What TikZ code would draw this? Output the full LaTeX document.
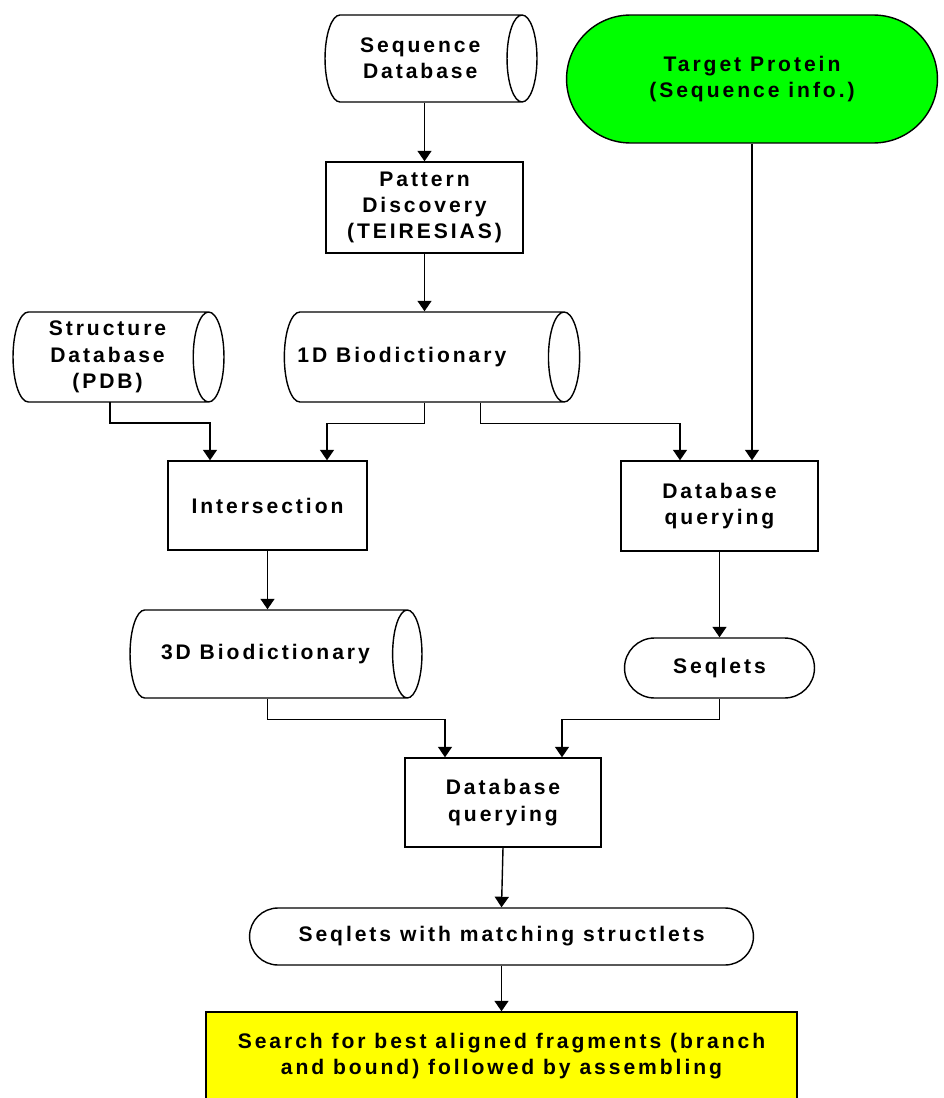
\documentclass[tikz,border=0pt]{standalone}
\usepackage{fontspec}
\newfontfamily\chartfont{Liberation Sans}[LetterSpace=14]
\usetikzlibrary{arrows.meta,positioning,calc,shapes.geometric,shapes.misc}

\definecolor{targetgreen}{RGB}{0,255,0}
\definecolor{searchyellow}{RGB}{255,255,0}

\tikzset{
  boxbase/.style={draw, line width=0.8pt, align=center, inner sep=2pt,
    font=\chartfont\bfseries\fontsize{12}{15}\selectfont},
  procbox/.style={boxbase, rectangle, fill=white},
  storebox/.style={boxbase, cylinder, shape aspect=0.7, anchor=shape center, fill=white},
  termbox/.style={boxbase, rounded rectangle, fill=white},
  arr/.style={line width=0.8pt, -{Triangle[width=8pt,length=6pt]}},
}

\begin{document}
\begin{tikzpicture}[x=0.02cm, y=-0.02cm]
\useasboundingbox (0,0) rectangle (943,1098);

% databases and inputs
\node[storebox, shape aspect=0.62, minimum height=4.24cm, minimum width=1.74cm] (seqdb) at (431,58.5) {Sequence\\Database};
\node[termbox, fill=targetgreen, minimum width=7.56cm, minimum height=2.56cm] (target) at (752,79) {Target Protein\\(Sequence info.)};
\node[procbox, minimum width=3.94cm, minimum height=1.82cm] (pattern) at (424.5,207.5) {Pattern\\Discovery\\(TEIRESIAS)};
\node[storebox, shape aspect=0.39, minimum height=4.22cm, minimum width=1.8cm] (structdb) at (118.5,357) {Structure\\Database\\(PDB)};
\node[storebox, shape aspect=1.17, minimum height=5.84cm, minimum width=1.8cm] (biodict1) at (432,357) {1D Biodictionary\hspace*{0.76cm}};

% middle stage
\node[procbox, minimum width=3.98cm, minimum height=1.78cm] (inter) at (267.5,505.5) {Intersection};
\node[procbox, minimum width=3.94cm, minimum height=1.8cm] (query1) at (719.5,506) {Database\\querying};
\node[storebox, shape aspect=1.1, minimum height=5.84cm, minimum width=1.76cm] (biodict3) at (276,654) {3D Biodictionary};
\node[termbox, minimum width=3.94cm, minimum height=1.2cm] (seqlets) at (719.5,668) {Seqlets};

% final stage
\node[procbox, minimum width=3.92cm, minimum height=1.78cm] (query2) at (503,802.5) {Database\\querying};
\node[termbox, minimum width=10.22cm, minimum height=1.14cm] (matched) at (501.5,936.5) {Seqlets with matching structlets};
\node[procbox, fill=searchyellow, minimum width=11.82cm, minimum height=1.76cm] (search) at (501.5,1056) {Search for best aligned fragments (branch\\and bound) followed by assembling};

% connectors
\draw[arr] (seqdb.south -| pattern.north) -- (pattern.north);
\draw[arr] (pattern.south) -- (pattern.south |- biodict1.north);
\draw[arr] (target.south) -- (target.south |- query1.north);
\draw[arr] ($(structdb.shape center)+(-8.5,45)$) -- ++(0,21) -| ($(inter.north)+(-57.5,0)$);
\draw[arr] (pattern.south |- biodict1.south) -- ++(0,21) -| ($(inter.north)+(59.5,0)$);
\draw[arr] ($(pattern.south |- biodict1.south)+(56,0)$) -- ++(0,21) -| ($(query1.north)+(-39.5,0)$);
\draw[arr] (inter.south) -- (inter.south |- biodict3.north);
\draw[arr] (query1.south) -- (seqlets.north);
\draw[arr] (inter.south |- biodict3.south) -- ++(0,21) -| ($(query2.north)+(-58,0)$);
\draw[arr] (seqlets.south) -- ++(0,21) -| ($(query2.north)+(59,0)$);
\draw[arr] (query2.south) -- (matched.north);
\draw[arr] (matched.south) -- (search.north);
\end{tikzpicture}
\end{document}
